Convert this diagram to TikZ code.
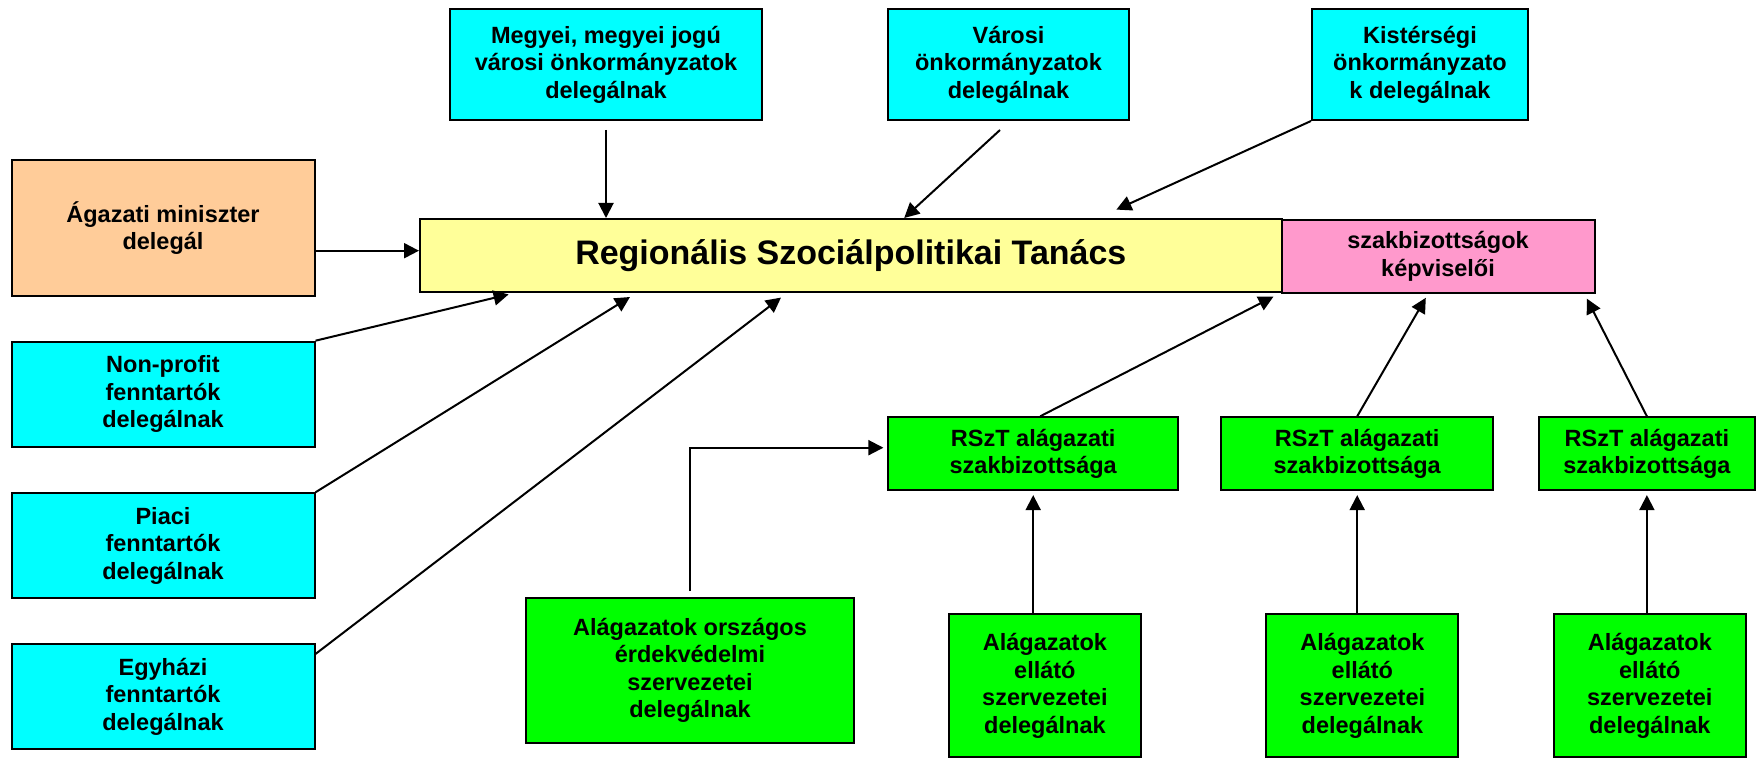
\documentclass[tikz,border=0pt]{standalone}
\usepackage{fontspec}
\setmainfont{Liberation Sans}
\usepackage{tikz}
\usetikzlibrary{arrows.meta}

\definecolor{tagcyan}{HTML}{00FFFF}
\definecolor{tagorange}{HTML}{FFCC99}
\definecolor{tanacsyellow}{HTML}{FFFF99}
\definecolor{szakpink}{HTML}{FF99CC}
\definecolor{agazatgreen}{HTML}{00FF00}

\begin{document}
\begin{tikzpicture}[x=0.5pt, y=-0.5pt,
    box/.style={draw=black, line width=1pt, align=center, inner sep=0pt,
      font=\bfseries\fontsize{11.75}{13.75}\selectfont},
    arr/.style={-{Triangle[length=7.5pt,width=7.5pt]}, line width=1pt}]
  \useasboundingbox (0,0) rectangle (1762,759);

  % delegalo onkormanyzatok
  \node[box, fill=tagcyan, minimum width=156pt, minimum height=55.5pt] (megyei) at (606,64.5)
    {Megyei, megyei jogú\\városi önkormányzatok\\delegálnak};
  \node[box, fill=tagcyan, minimum width=120.5pt, minimum height=55.5pt] (varosi) at (1008.5,64.5)
    {Városi\\önkormányzatok\\delegálnak};
  \node[box, fill=tagcyan, minimum width=108pt, minimum height=55.5pt] (kisterseg) at (1420,64.5)
    {Kistérségi\\önkormányzato\\k delegálnak};

  % tanacs
  \node[box, fill=tagorange, minimum width=151.5pt, minimum height=68pt] (agazati) at (163,228)
    {Ágazati miniszter\\delegál};
  \node[box, fill=tanacsyellow, minimum width=430.8pt, minimum height=36.5pt,
    font=\bfseries\fontsize{17}{20}\selectfont] (rszt) at (850.8,255.5)
    {Regionális Szociálpolitikai Tanács};
  \node[box, fill=szakpink, minimum width=156.5pt, minimum height=36.5pt] (szakb) at (1438,256.5)
    {szakbizottságok\\képviselői};

  % fenntartok
  \node[box, fill=tagcyan, minimum width=151.5pt, minimum height=52.5pt] (nonprofit) at (163,394.2)
    {Non-profit\\fenntartók\\delegálnak};
  \node[box, fill=tagcyan, minimum width=151.5pt, minimum height=52.2pt] (piaci) at (163,545.5)
    {Piaci\\fenntartók\\delegálnak};
  \node[box, fill=tagcyan, minimum width=151.5pt, minimum height=52.5pt] (egyhazi) at (163,696.5)
    {Egyházi\\fenntartók\\delegálnak};

  % alagazatok
  \node[box, fill=agazatgreen, minimum width=164pt, minimum height=72.4pt] (orszagos) at (690,670.4)
    {Alágazatok országos\\érdekvédelmi\\szervezetei\\delegálnak};
  \node[box, fill=agazatgreen, minimum width=144.8pt, minimum height=36.4pt] (bizA) at (1033.2,453.7)
    {RSzT alágazati\\szakbizottsága};
  \node[box, fill=agazatgreen, minimum width=136.2pt, minimum height=36.4pt] (bizB) at (1357.2,453.7)
    {RSzT alágazati\\szakbizottsága};
  \node[box, fill=agazatgreen, minimum width=108.2pt, minimum height=36.4pt] (bizC) at (1646.9,453.7)
    {RSzT alágazati\\szakbizottsága};
  \node[box, fill=agazatgreen, minimum width=96pt, minimum height=71.7pt] (ellA) at (1044.9,685.7)
    {Alágazatok\\ellátó\\szervezetei\\delegálnak};
  \node[box, fill=agazatgreen, minimum width=96pt, minimum height=71.7pt] (ellB) at (1362.4,685.7)
    {Alágazatok\\ellátó\\szervezetei\\delegálnak};
  \node[box, fill=agazatgreen, minimum width=96pt, minimum height=71.7pt] (ellC) at (1649.8,685.7)
    {Alágazatok\\ellátó\\szervezetei\\delegálnak};

  % nyilak a tanacshoz
  \draw[arr] ([yshift=-4.5pt]megyei.south) -- (megyei.south |- rszt.north);
  \draw[arr] ([xshift=-4.25pt,yshift=-4.5pt]varosi.south) -- ([xshift=242.6pt]rszt.north west);
  \draw[arr] (kisterseg.south west) -- ([xshift=348.7pt,yshift=4.2pt]rszt.north west);
  \coordinate (agazatibe) at ([yshift=2.4pt]rszt.west);
  \draw[arr] (agazati.east |- agazatibe) -- (agazatibe);
  \draw[arr] (nonprofit.north east) -- ([xshift=44.8pt,yshift=-0.7pt]rszt.south west);
  \draw[arr] (piaci.north east) -- ([xshift=105.5pt,yshift=-2pt]rszt.south west);
  \draw[arr] ([yshift=-5.5pt]egyhazi.north east) -- ([xshift=181pt,yshift=-2.3pt]rszt.south west);

  % nyilak a szakbizottsagokhoz
  \draw[arr] ([xshift=3.5pt]bizA.north) -- ([xshift=-3.5pt,yshift=-1.3pt]szakb.south west);
  \draw[arr] (bizB.north) -- ([xshift=-6.1pt,yshift=-1.9pt]szakb.south);
  \draw[arr] (bizC.north) -- ([xshift=-4.35pt,yshift=-2.3pt]szakb.south east);
  \draw[arr] ([yshift=3pt]orszagos.north) |- ([xshift=-2pt,yshift=3pt]bizA.west);
  \draw[arr] (bizA.south |- ellA.north) -- ([yshift=-2pt]bizA.south);
  \draw[arr] (bizB.south |- ellB.north) -- ([yshift=-2pt]bizB.south);
  \draw[arr] (bizC.south |- ellC.north) -- ([yshift=-2pt]bizC.south);
\end{tikzpicture}
\end{document}
